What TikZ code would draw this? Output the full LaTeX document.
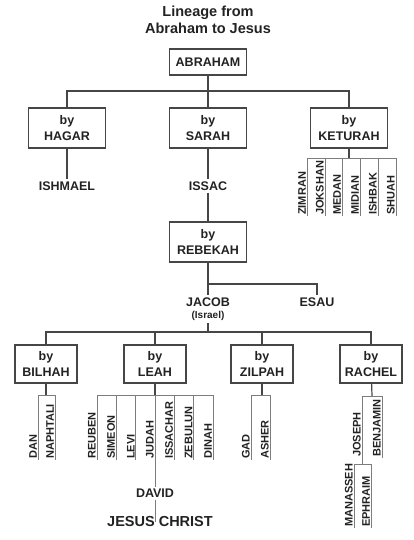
\documentclass[tikz,border=0pt]{standalone}
\usepackage{fontspec}
\setmainfont{Liberation Sans}
\usetikzlibrary{positioning}
\definecolor{ink}{RGB}{34,34,34}
\definecolor{lnc}{RGB}{70,70,70}
\definecolor{twig}{RGB}{125,125,125}

\begin{document}
\begin{tikzpicture}[x=1pt,y=-1pt,
    fam/.style={rectangle,draw=lnc,line width=1.3pt,minimum width=77pt,minimum height=40pt,align=center,text=ink,font=\fontsize{12.5}{15.5}\selectfont\bfseries,inner sep=1pt},
    wife/.style={fam,minimum width=62pt,minimum height=38pt},
    lbl/.style={text=ink,font=\fontsize{12.5}{14}\selectfont\bfseries,inner sep=2pt},
    kid/.style={rotate=90,anchor=south west,text=ink,font=\fontsize{11}{11}\selectfont\bfseries,inner sep=1pt},
    ln/.style={draw=lnc,line width=1.2pt},
    twg/.style={draw=twig,line width=0.8pt},
]
\useasboundingbox (0,0) rectangle (414,540);

% Title
\node[text=ink,font=\fontsize{14.5}{17}\selectfont\bfseries,align=center] (title) at (208,20) {Lineage from\\Abraham to Jesus};

% Abraham and wives
\node[fam,minimum height=26pt] (abr) at (208,62) {ABRAHAM};
\node[fam] (hag) at (67,128) {by\\HAGAR};
\node[fam] (sar) at (208,128) {by\\SARAH};
\node[fam] (ket) at (349,128) {by\\KETURAH};

% Sons
\node[lbl] (ish) at (67,186) {ISHMAEL};
\node[lbl] (isa) at (208,186) {ISSAC};
\node[fam] (reb) at (208,242) {by\\REBEKAH};
\node[lbl] (jac) at (208,302) {JACOB};
\node[lbl,font=\fontsize{10}{10}\selectfont\bfseries] (isr) at (208,316) {(Israel)};
\node[lbl] (esa) at (317,302) {ESAU};

% Jacob's wives
\node[wife] (bil) at (46,364) {by\\BILHAH};
\node[wife] (lea) at (155,364) {by\\LEAH};
\node[wife] (zil) at (262,364) {by\\ZILPAH};
\node[wife] (rac) at (371,364) {by\\RACHEL};

% Line of Judah
\node[lbl] (dav) at (155,493) {DAVID};
\node[lbl,font=\fontsize{14.5}{16}\selectfont\bfseries] (jes) at (160,522) {JESUS CHRIST};

% Branch points
\coordinate (abar) at (208,91);
\coordinate (esp) at (208,284);
\coordinate (jbar) at (208,332);
\coordinate (kbar) at (349,158);
\coordinate (bbar) at (46,395);
\coordinate (lbar) at (155,395);
\coordinate (zbar) at (262,395);
\coordinate (rbar) at (372,396);
\coordinate (jsbar) at (362,464);

% Sons of Keturah
\node[kid] (zim) at (307,216) {ZIMRAN};
\node[kid] (jok) at (325,216) {JOKSHAN};
\node[kid] (med) at (342,216) {MEDAN};
\node[kid] (mid) at (360,216) {MIDIAN};
\node[kid] (isb) at (378,216) {ISHBAK};
\node[kid] (shu) at (396,216) {SHUAH};

% Sons of Jacob
\node[kid] (dan) at (38,460) {DAN};
\node[kid] (nap) at (55,460) {NAPHTALI};
\node[kid] (reu) at (97,460) {REUBEN};
\node[kid] (sim) at (116.3,460) {SIMEON};
\node[kid] (lev) at (135.7,460) {LEVI};
\node[kid] (jud) at (155,460) {JUDAH};
\node[kid] (iss) at (174.3,460) {ISSACHAR};
\node[kid] (zeb) at (193.7,460) {ZEBULUN};
\node[kid] (din) at (213,460) {DINAH};
\node[kid] (gad) at (251,460) {GAD};
\node[kid] (ash) at (270,460) {ASHER};
\node[kid] (jos) at (362,458) {JOSEPH};
\node[kid] (ben) at (382,458) {BENJAMIN};
\node[kid] (man) at (354,528) {MANASSEH};
\node[kid] (eph) at (371,528) {EPHRAIM};

% Connections
\draw[ln] (abr) -- (abar); \draw[ln] (hag) |- (abar) -| (ket); \draw[ln] (abar) -- (sar);
\draw[ln] (hag) -- (ish); \draw[ln] (sar) -- (isa); \draw[ln] (isa) -- (reb);
\draw[ln] (reb) -- (jac); \draw[ln] (esp) -| (esa);
\draw[ln] (isr) -- (jbar); \draw[ln] (bil) |- (jbar) -| (rac);
\draw[ln] (lea) -- (lea |- jbar); \draw[ln] (zil) -- (zil |- jbar);

% Keturah
\draw[ln] (ket) -- (kbar);
\draw[twg] (zim.south west |- kbar) -- (shu.south west |- kbar);
\draw[twg] (zim.south west) -- (zim.south west |- kbar); \draw[twg] (jok.south west) -- (jok.south west |- kbar);
\draw[twg] (med.south west) -- (med.south west |- kbar); \draw[twg] (mid.south west) -- (mid.south west |- kbar);
\draw[twg] (isb.south west) -- (isb.south west |- kbar); \draw[twg] (shu.south west) -- (shu.south west |- kbar);

% Bilhah
\draw[ln] (bil) -- (bbar);
\draw[twg] (dan.south west |- bbar) -- (nap.south west |- bbar);
\draw[twg] (dan.south west) -- (dan.south west |- bbar); \draw[twg] (nap.south west) -- (nap.south west |- bbar);

% Leah
\draw[ln] (lea) -- (lbar);
\draw[twg] (reu.south west |- lbar) -- (din.south west |- lbar);
\draw[twg] (reu.south west) -- (reu.south west |- lbar); \draw[twg] (sim.south west) -- (sim.south west |- lbar);
\draw[twg] (lev.south west) -- (lev.south west |- lbar); \draw[twg] (iss.south west) -- (iss.south west |- lbar);
\draw[twg] (zeb.south west) -- (zeb.south west |- lbar); \draw[twg] (din.south west) -- (din.south west |- lbar);
\draw[twg] (lbar) -- (dav); \draw[twg] (dav) -- (dav |- jes);

% Zilpah
\draw[ln] (zil) -- (zbar);
\draw[twg] (gad.south west |- zbar) -- (ash.south west |- zbar);
\draw[twg] (gad.south west) -- (gad.south west |- zbar); \draw[twg] (ash.south west) -- (ash.south west |- zbar);

% Rachel
\draw[ln] (rac) -- (rbar);
\draw[twg] (jos.south west |- rbar) -- (ben.south west |- rbar);
\draw[twg] (jos.south west |- rbar) -- (jsbar); \draw[twg] (ben.south west) -- (ben.south west |- rbar);
\draw[twg] (man.south west |- jsbar) -- (eph.south west |- jsbar);
\draw[twg] (man.south west) -- (man.south west |- jsbar); \draw[twg] (eph.south west) -- (eph.south west |- jsbar);
\end{tikzpicture}
\end{document}
